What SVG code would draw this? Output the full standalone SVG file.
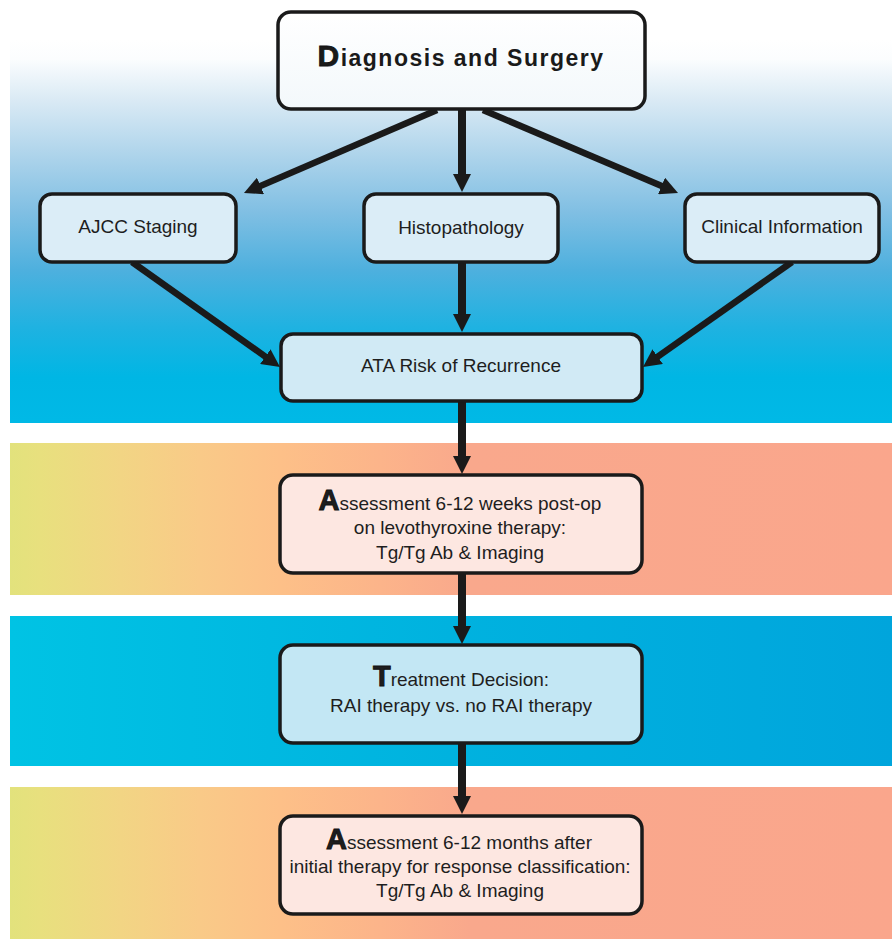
<svg xmlns="http://www.w3.org/2000/svg" width="892" height="939" viewBox="0 0 892 939">
<defs>
  <linearGradient id="bgTop" x1="0" y1="40" x2="0" y2="423" gradientUnits="userSpaceOnUse">
    <stop offset="0" stop-color="#ffffff"/>
    <stop offset="0.05" stop-color="#fbfdfe"/>
    <stop offset="0.15" stop-color="#dcebf5"/>
    <stop offset="0.3" stop-color="#aed4eb"/>
    <stop offset="0.45" stop-color="#80bfe3"/>
    <stop offset="0.6" stop-color="#4eb0de"/>
    <stop offset="0.75" stop-color="#1fb2e1"/>
    <stop offset="0.88" stop-color="#00b6e4"/>
    <stop offset="1" stop-color="#00b9e6"/>
  </linearGradient>
  <linearGradient id="bgWarm" x1="10" y1="0" x2="892" y2="0" gradientUnits="userSpaceOnUse">
    <stop offset="0" stop-color="#e2e27c"/>
    <stop offset="0.034" stop-color="#e8e07e"/>
    <stop offset="0.125" stop-color="#f2d584"/>
    <stop offset="0.215" stop-color="#f9ca88"/>
    <stop offset="0.306" stop-color="#fdc088"/>
    <stop offset="0.42" stop-color="#fcb48a"/>
    <stop offset="0.522" stop-color="#f9a88c"/>
    <stop offset="1" stop-color="#faa68c"/>
  </linearGradient>
  <linearGradient id="bgCool" x1="10" y1="0" x2="892" y2="0" gradientUnits="userSpaceOnUse">
    <stop offset="0" stop-color="#00c3e4"/>
    <stop offset="0.5" stop-color="#00b2df"/>
    <stop offset="1" stop-color="#00a5dc"/>
  </linearGradient>
  <linearGradient id="fillTop" x1="0" y1="0" x2="0" y2="1">
    <stop offset="0" stop-color="#ffffff"/>
    <stop offset="1" stop-color="#f3f8fb"/>
  </linearGradient>
  <marker id="head" markerUnits="userSpaceOnUse" markerWidth="18" markerHeight="18" refX="6" refY="9" orient="auto" viewBox="0 0 18 18">
    <path d="M0,0 L18,9 L0,18 Z" fill="#1a1a1a"/>
  </marker>
  <style>
    .box { stroke: #1a1a1a; stroke-width: 3.5; }
    .blue { fill: #dbedf7; }
    .ata { fill: #d1eaf5; }
    .pink { fill: #fde7e1; }
    .treat { fill: #c3e7f4; }
    .lbl { font-family: "Liberation Sans", Arial, sans-serif; font-size: 19px; fill: #1e1e1e; text-anchor: middle; }
    .big { font-weight: bold; font-size: 29px; stroke: #111; stroke-width: 0.9; }
    .title { font-family: "Liberation Sans", Arial, sans-serif; font-size: 23px; font-weight: bold; letter-spacing: 1.5px; fill: #1a1a1a; text-anchor: middle; }
    .conn { stroke: #1a1a1a; fill: none; marker-end: url(#head); }
    .diag { stroke-width: 6.5; }
    .vert { stroke-width: 8; }
  </style>
</defs>

<g id="background">
  <rect x="10" y="40" width="882" height="383" fill="url(#bgTop)"/>
  <rect x="10" y="443" width="882" height="152" fill="url(#bgWarm)"/>
  <rect x="10" y="616" width="882" height="150" fill="url(#bgCool)"/>
  <rect x="10" y="787" width="882" height="152" fill="url(#bgWarm)"/>
</g>

<g id="connectors">
  <line class="conn diag" x1="437" y1="110" x2="255" y2="188.3"/>
  <line class="conn vert" x1="462" y1="110" x2="462" y2="180"/>
  <line class="conn diag" x1="483" y1="110" x2="667" y2="188.3"/>
  <line class="conn diag" x1="132" y1="262" x2="270.2" y2="360.1"/>
  <line class="conn vert" x1="462" y1="261" x2="462" y2="320"/>
  <line class="conn diag" x1="792" y1="262" x2="652.8" y2="360.1"/>
  <line class="conn vert" x1="462" y1="401" x2="462" y2="462"/>
  <line class="conn vert" x1="462" y1="573" x2="462" y2="632"/>
  <line class="conn vert" x1="462" y1="743" x2="462" y2="802"/>
</g>

<g id="node-diagnosis">
  <rect class="box" x="278" y="12" width="367" height="97" rx="13" fill="url(#fillTop)"/>
  <text class="title" x="461" y="66"><tspan font-size="30px" stroke="#111" stroke-width="0.8">D</tspan>iagnosis and Surgery</text>
</g>

<g id="node-ajcc">
  <rect class="box blue" x="40" y="194" width="196" height="68" rx="12"/>
  <text class="lbl" x="138" y="233">AJCC Staging</text>
</g>

<g id="node-histo">
  <rect class="box blue" x="364" y="194" width="194" height="68" rx="12"/>
  <text class="lbl" x="461" y="234">Histopathology</text>
</g>

<g id="node-clinical">
  <rect class="box blue" x="685" y="194" width="194" height="68" rx="12"/>
  <text class="lbl" x="782" y="233">Clinical Information</text>
</g>

<g id="node-ata">
  <rect class="box ata" x="281" y="334" width="361" height="67" rx="12"/>
  <text class="lbl" x="461" y="372">ATA Risk of Recurrence</text>
</g>

<g id="node-assess1">
  <rect class="box pink" x="280" y="475" width="362" height="98" rx="13"/>
  <text class="lbl" x="460" y="510"><tspan class="big">A</tspan>ssessment 6-12 weeks post-op</text>
  <text class="lbl" x="460" y="534">on levothyroxine therapy:</text>
  <text class="lbl" x="460" y="559">Tg/Tg Ab &amp; Imaging</text>
</g>

<g id="node-treatment">
  <rect class="box treat" x="280" y="645" width="362" height="98" rx="13"/>
  <text class="lbl" x="461" y="686"><tspan class="big">T</tspan>reatment Decision:</text>
  <text class="lbl" x="461" y="712">RAI therapy vs. no RAI therapy</text>
</g>

<g id="node-assess2">
  <rect class="box pink" x="280" y="816" width="362" height="98" rx="13"/>
  <text class="lbl" x="459" y="849"><tspan class="big">A</tspan>ssessment 6-12 months after</text>
  <text class="lbl" x="460" y="873">initial therapy for response classification:</text>
  <text class="lbl" x="460" y="897">Tg/Tg Ab &amp; Imaging</text>
</g>
</svg>
